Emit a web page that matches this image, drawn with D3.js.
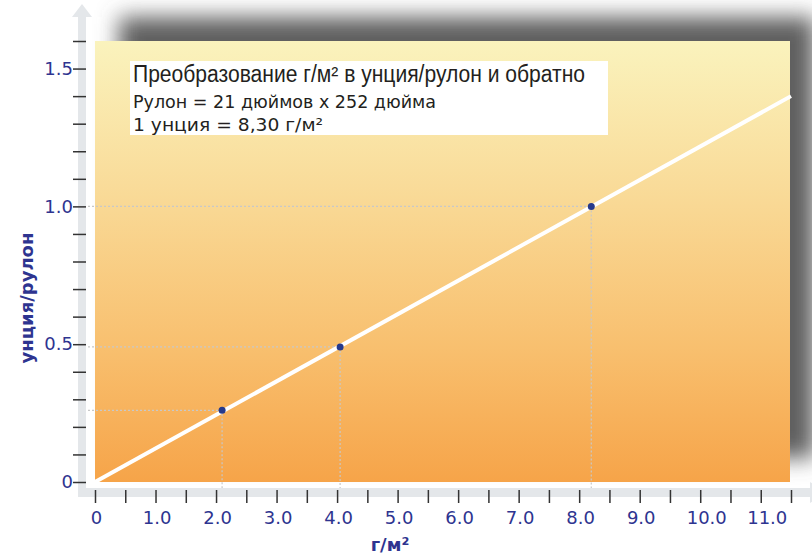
<!DOCTYPE html>
<html>
<head>
<meta charset="utf-8">
<script src="https://cdn.jsdelivr.net/npm/d3@7"></script>
<style>
  body { margin: 0; background: #fff; }
  svg { display: block; }
</style>
</head>
<body>
<script>
// conversion line (г/м² -> унция/рулон)
var lineX = [0, 11.5];
var lineY = [0, 1.4];

// marked points on the line
var pointX = [2.1, 4.05, 8.2];
var pointY = [0.26, 0.49, 1.0];

// tick labels
var xLabelValues = [0, 1, 2, 3, 4, 5, 6, 7, 8, 9, 10, 11];
var xLabels = ["0", "1.0", "2.0", "3.0", "4.0", "5.0", "6.0", "7.0", "8.0", "9.0", "10.0", "11.0"];
var yLabelValues = [0, 0.5, 1.0, 1.5];
var yLabels = ["0", "0.5", "1.0", "1.5"];

var titleLines = [
  "Преобразование г/м² в унция/рулон и обратно",
  "Рулон = 21 дюймов x 252 дюйма",
  "1 унция = 8,30 г/м²"
];
var xTitle = "г/м²";
var yTitle = "унция/рулон";

var width = 812, height = 556;
var navy = "#2e3490";

var x = d3.scaleLinear().domain([0, 11.5]).range([95, 791]);
var y = d3.scaleLinear().domain([0, 1.6]).range([482, 41]);

var svg = d3.select("body").append("svg")
    .attr("width", width)
    .attr("height", height);

var defs = svg.append("defs");
defs.append("filter")
    .attr("id", "blur")
    .attr("x", "-20%").attr("y", "-20%")
    .attr("width", "140%").attr("height", "140%")
  .append("feGaussianBlur")
    .attr("stdDeviation", 11);

var grad = defs.append("linearGradient")
    .attr("id", "bg")
    .attr("x1", 0).attr("y1", 0).attr("x2", 0).attr("y2", 1);
grad.append("stop").attr("offset", "0%").attr("stop-color", "#faf3bd");
grad.append("stop").attr("offset", "35%").attr("stop-color", "#f9da97");
grad.append("stop").attr("offset", "70%").attr("stop-color", "#f8bf6e");
grad.append("stop").attr("offset", "100%").attr("stop-color", "#f6a449");

// shadow behind the plot
svg.append("rect")
    .attr("x", x(0) + 24)
    .attr("y", y(1.6) - 24)
    .attr("width", x(11.5) - x(0))
    .attr("height", y(0) - y(1.6))
    .attr("fill", "#5e5e5e")
    .attr("filter", "url(#blur)");

// grey axis bands with arrows
var band = "#e4e7ea";
svg.append("rect").attr("x", 78).attr("y", 16).attr("width", 8).attr("height", 481).attr("fill", band);
svg.append("rect").attr("x", 78).attr("y", 488).attr("width", 734).attr("height", 9).attr("fill", band);
svg.append("polygon").attr("points", "82,4 72,17 92,17").attr("fill", band);
svg.append("polygon").attr("points", "826,492.5 810,482 810,503").attr("fill", band);

// plot area
svg.append("rect")
    .attr("x", x(0))
    .attr("y", y(1.6))
    .attr("width", x(11.5) - x(0) - 1)
    .attr("height", y(0) - y(1.6))
    .attr("fill", "url(#bg)");

// dotted guide lines
var pts = pointX.map(function(d, i) { return [d, pointY[i]]; });
var guides = svg.append("g")
    .attr("stroke", "#c8c8c8")
    .attr("stroke-width", 1.2)
    .attr("stroke-dasharray", "2,2");
guides.selectAll(".h").data(pts).enter().append("line")
    .attr("x1", 88).attr("x2", function(d) { return x(d[0]); })
    .attr("y1", function(d) { return y(d[1]); })
    .attr("y2", function(d) { return y(d[1]); });
guides.selectAll(".v").data(pts).enter().append("line")
    .attr("x1", function(d) { return x(d[0]); })
    .attr("x2", function(d) { return x(d[0]); })
    .attr("y1", function(d) { return y(d[1]); })
    .attr("y2", 488);

// conversion line
var line = d3.line()
    .x(function(d) { return x(d[0]); })
    .y(function(d) { return y(d[1]); });
svg.append("path")
    .datum(lineX.map(function(d, i) { return [d, lineY[i]]; }))
    .attr("d", line)
    .attr("fill", "none")
    .attr("stroke", "#fff")
    .attr("stroke-width", 4);

svg.selectAll(".pt").data(pts).enter().append("circle")
    .attr("cx", function(d) { return x(d[0]); })
    .attr("cy", function(d) { return y(d[1]); })
    .attr("r", 3.5)
    .attr("fill", "#263a8c");

// axes
function labelFor(values, labels) {
  return function(d) {
    var i = values.findIndex(function(v) { return Math.abs(v - d) < 1e-6; });
    return i >= 0 ? labels[i] : "";
  };
}

var yAxis = d3.axisLeft(y)
    .tickValues(d3.range(0, 1.65, 0.1))
    .tickSize(13)
    .tickPadding(0)
    .tickFormat(labelFor(yLabelValues, yLabels));
var gy = svg.append("g").attr("transform", "translate(86,0)").call(yAxis);

var xAxis = d3.axisBottom(x)
    .tickValues(d3.range(0, 11.55, 0.5))
    .tickSize(13)
    .tickPadding(8)
    .tickFormat(labelFor(xLabelValues, xLabels));
var gx = svg.append("g").attr("transform", "translate(0,490)").call(xAxis);

[gx, gy].forEach(function(g) {
  g.select(".domain").remove();
  g.selectAll(".tick line").attr("stroke", "#333").attr("stroke-width", 1.5);
  g.selectAll(".tick text")
      .attr("fill", navy)
      .style("font-family", "DejaVu Sans, sans-serif")
      .style("font-size", "18px");
});
gx.selectAll(".tick text").attr("dx", function(d) { return d >= 10 ? 6 : 1; });

// axis titles
svg.append("text")
    .attr("x", 390).attr("y", 551)
    .attr("text-anchor", "middle")
    .attr("fill", navy)
    .style("font-family", "DejaVu Sans, sans-serif")
    .style("font-weight", "bold")
    .style("font-size", "18px")
    .text(xTitle);

svg.append("text")
    .attr("transform", "translate(33,298) rotate(-90)")
    .attr("text-anchor", "middle")
    .attr("fill", navy)
    .style("font-family", "DejaVu Sans, sans-serif")
    .style("font-weight", "bold")
    .style("font-size", "18px")
    .text(yTitle);

// title box
svg.append("rect")
    .attr("x", 130).attr("y", 61)
    .attr("width", 478).attr("height", 74)
    .attr("fill", "#fff");

var titleStyle = [
  {y: 82, size: 23, len: 452},
  {y: 108, size: 17, len: 303},
  {y: 131, size: 17, len: 190}
];
svg.selectAll(".title").data(titleLines).enter().append("text")
    .attr("x", 133)
    .attr("y", function(d, i) { return titleStyle[i].y; })
    .attr("textLength", function(d, i) { return titleStyle[i].len; })
    .attr("lengthAdjust", "spacingAndGlyphs")
    .attr("fill", "#231f20")
    .style("font-family", function(d, i) { return i === 0 ? "Liberation Sans, sans-serif" : "DejaVu Sans, sans-serif"; })
    .style("font-size", function(d, i) { return titleStyle[i].size + "px"; })
    .text(function(d) { return d; });
</script>
</body>
</html>
